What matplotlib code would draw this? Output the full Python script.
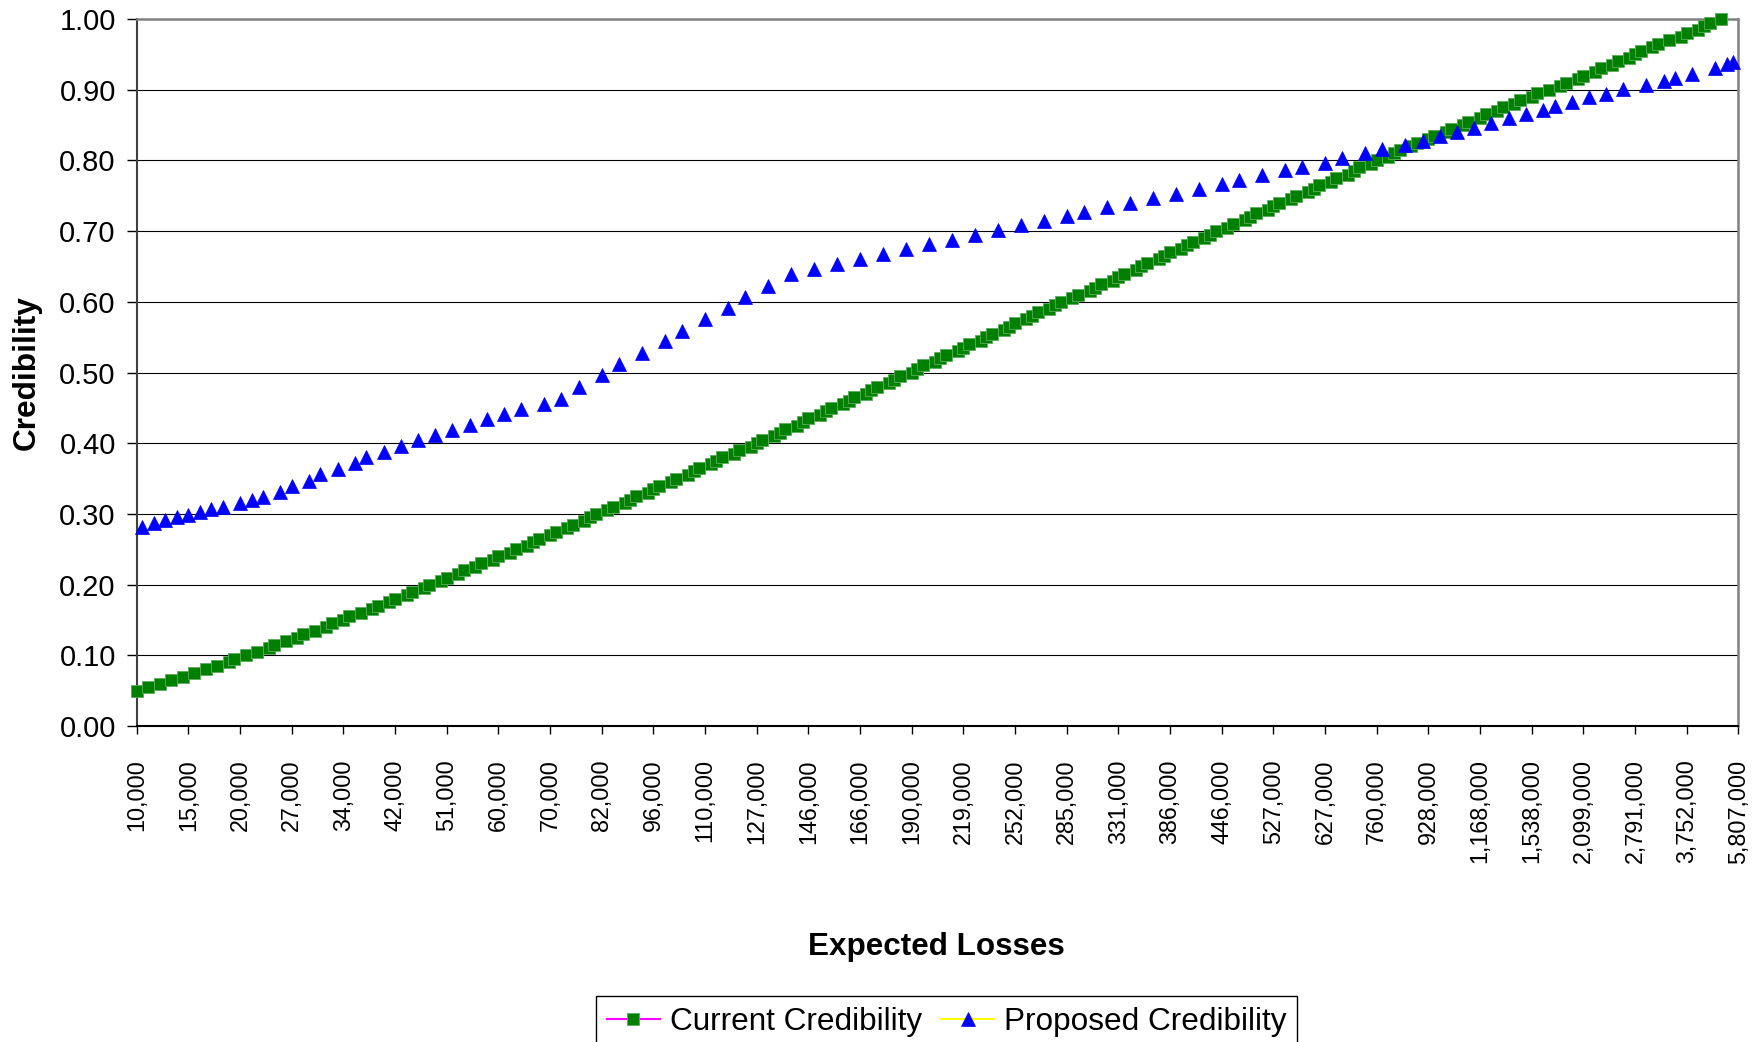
import numpy as np
import matplotlib
matplotlib.use("Agg")
import matplotlib.pyplot as plt
from matplotlib.ticker import FormatStrFormatter

plt.rcParams['font.family'] = ['Liberation Sans', 'DejaVu Sans']

# Category axis: expected losses, one label every 9th category
tick_losses = [10000, 15000, 20000, 27000, 34000, 42000, 51000, 60000,
               70000, 82000, 96000, 110000, 127000, 146000, 166000, 190000,
               219000, 252000, 285000, 331000, 386000, 446000, 527000, 627000,
               760000, 928000, 1168000, 1538000, 2099000, 2791000, 3752000, 5807000]
label_every = 9
n_cats = 280

# Categories holding a proposed credibility point (the rest hold current ones)
proposed_cats = [1, 3, 5, 7, 9, 11, 13, 15, 18, 20, 22, 25, 27, 30, 32, 35, 38,
                 40, 43, 46, 49, 52, 55, 58, 61, 64, 67, 71, 74, 77, 81, 84, 88,
                 92, 95, 99, 103, 106, 110, 114, 118, 122, 126, 130, 134,
                 138, 142, 146, 150, 154, 158, 162, 165, 169, 173, 177, 181,
                 185, 189, 192, 196, 200, 203, 207, 210, 214, 217, 221, 224, 227, 230,
                 233, 236, 239, 242, 245, 247, 250, 253, 256, 259, 263, 266, 268,
                 271, 275, 277, 278]

proposed_vals = [0.282, 0.287, 0.291, 0.295, 0.299, 0.303, 0.307, 0.310, 0.315,
                 0.319, 0.324, 0.331, 0.340, 0.347, 0.356, 0.363, 0.372,
                 0.380, 0.388, 0.396, 0.404, 0.411, 0.419, 0.426, 0.434, 0.442,
                 0.448, 0.455, 0.463, 0.479, 0.496, 0.512, 0.527,
                 0.544, 0.559, 0.575, 0.591, 0.607, 0.623, 0.639, 0.646, 0.654,
                 0.661, 0.668, 0.675,
                 0.682, 0.687, 0.694, 0.701, 0.708, 0.714, 0.721, 0.727, 0.734,
                 0.740, 0.747, 0.753,
                 0.759, 0.766, 0.772, 0.779, 0.786, 0.791, 0.797, 0.804, 0.810,
                 0.816, 0.822, 0.828, 0.834, 0.840,
                 0.846, 0.853, 0.860, 0.866, 0.871, 0.877, 0.883, 0.889, 0.894,
                 0.901, 0.907, 0.913, 0.916, 0.922, 0.930, 0.936, 0.939]

current_vals = [0.050, 0.055, 0.060, 0.065, 0.070, 0.075, 0.080, 0.085, 0.090, 0.095,
                0.100, 0.105, 0.110, 0.115, 0.120, 0.125, 0.130, 0.135, 0.140, 0.145,
                0.150, 0.155, 0.160, 0.165, 0.170, 0.175, 0.180, 0.185, 0.190, 0.195,
                0.200, 0.205, 0.210, 0.215, 0.220, 0.225, 0.230, 0.235, 0.240, 0.245,
                0.250, 0.255, 0.260, 0.265, 0.270, 0.275, 0.280, 0.285, 0.290, 0.295,
                0.300, 0.305, 0.310, 0.315, 0.320, 0.325, 0.330, 0.335, 0.340, 0.345,
                0.350, 0.355, 0.360, 0.365, 0.370, 0.375, 0.380, 0.385, 0.390, 0.395,
                0.400, 0.405, 0.410, 0.415, 0.420, 0.425, 0.430, 0.435, 0.440, 0.445,
                0.450, 0.455, 0.460, 0.465, 0.470, 0.475, 0.480, 0.485, 0.490, 0.495,
                0.500, 0.505, 0.510, 0.515, 0.520, 0.525, 0.530, 0.535, 0.540, 0.545,
                0.550, 0.555, 0.560, 0.565, 0.570, 0.575, 0.580, 0.585, 0.590, 0.595,
                0.600, 0.605, 0.610, 0.615, 0.620, 0.625, 0.630, 0.635, 0.640, 0.645,
                0.650, 0.655, 0.660, 0.665, 0.670, 0.675, 0.680, 0.685, 0.690, 0.695,
                0.700, 0.705, 0.710, 0.715, 0.720, 0.725, 0.730, 0.735, 0.740, 0.745,
                0.750, 0.755, 0.760, 0.765, 0.770, 0.775, 0.780, 0.785, 0.790, 0.795,
                0.800, 0.805, 0.810, 0.815, 0.820, 0.825, 0.830, 0.835, 0.840, 0.845,
                0.850, 0.855, 0.860, 0.865, 0.870, 0.875, 0.880, 0.885, 0.890, 0.895,
                0.900, 0.905, 0.910, 0.915, 0.920, 0.925, 0.930, 0.935, 0.940, 0.945,
                0.950, 0.955, 0.960, 0.965, 0.970, 0.975, 0.980, 0.985, 0.990, 0.995,
                1.000]

# current points fill the categories not used by the proposed series
current_cats = [c for c in range(n_cats) if c not in proposed_cats][:len(current_vals)]

# Full-length series with gaps (like blank cells in a line chart)
current = np.full(n_cats, np.nan)
current[current_cats] = current_vals
proposed = np.full(n_cats, np.nan)
proposed[proposed_cats] = proposed_vals

W, H = 1758, 1042
fig = plt.figure(figsize=(W / 100, H / 100), dpi=100)
ax = fig.add_axes([136.7 / W, 1 - 726 / H, 1601.6 / W, 707 / H])

x = np.arange(n_cats)
ax.plot(x, current, color='#FF00FF', lw=1.5, marker='s', ms=8.2,
        mfc='#008000', mec='#5aad5a', mew=0.6, clip_on=False, zorder=3,
        label='Current Credibility')
ax.plot(x, proposed, color='#FFFF00', lw=1.5, marker='^', ms=9.6,
        mfc='#0000FF', mec='#0000FF', mew=0.5, clip_on=False, zorder=3,
        label='Proposed Credibility')

ax.set_xlim(0, n_cats - 1)
ax.set_ylim(0, 1)
ax.set_yticks(np.arange(0, 1.01, 0.1))
ax.yaxis.set_major_formatter(FormatStrFormatter('%.2f'))
ax.set_xticks(range(0, n_cats, label_every))
ax.set_xticklabels([f"{v:,}" for v in tick_losses], rotation=90)

ax.tick_params(axis='x', labelsize=16.8, length=6, width=1, pad=18, direction='out')
ax.tick_params(axis='y', labelsize=21, length=7, width=1, pad=8, direction='out')

ax.set_axisbelow(True)
ax.yaxis.grid(True, color='black', lw=0.8)

ax.spines['left'].set_color('#404040')
ax.spines['left'].set_linewidth(1.5)
ax.spines['bottom'].set_color('black')
ax.spines['bottom'].set_linewidth(1.5)
for side in ['top', 'right']:
    ax.spines[side].set_color('#808080')
    ax.spines[side].set_linewidth(1.8)

fig.text(27 / W, 1 - 372.5 / H, 'Credibility', rotation=90, ha='center', va='center',
         fontsize=22.8, fontweight='bold')
fig.text(936.7 / W, 1 - 947 / H, 'Expected Losses', ha='center', va='center',
         fontsize=22.6, fontweight='bold')

leg = fig.legend(loc='upper center', bbox_to_anchor=(946.5 / W, 1 - 996 / H),
                 ncol=2, fontsize=22.7, frameon=True, fancybox=False,
                 edgecolor='black', framealpha=1, handlelength=1.7,
                 handletextpad=0.3, columnspacing=0.6, borderpad=0.35,
                 borderaxespad=0)
leg.get_frame().set_linewidth(1.0)

fig.savefig('out.png', dpi=100)
